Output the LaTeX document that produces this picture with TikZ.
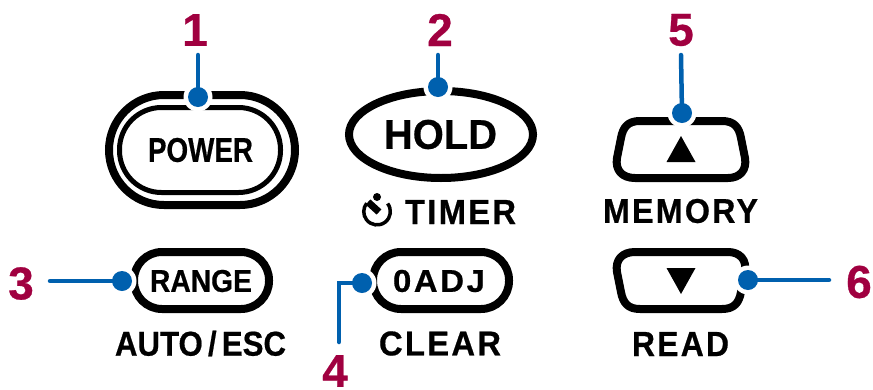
\documentclass[tikz,border=0pt]{standalone}
\usepackage{graphicx}
\usepackage{fontspec}
\setmainfont{Liberation Sans}
\definecolor{callblue}{HTML}{0060AE}
\definecolor{callred}{HTML}{A00040}
\newfontfamily\labfont[FakeBold=0.6]{Liberation Sans Bold}
\newcommand{\fitcap}[3]{\resizebox{#1pt}{#2pt}{\labfont #3}}
\newcommand{\fitsp}[3]{\resizebox{#1pt}{#2pt}{\labfont\addfontfeature{LetterSpace=7}#3}}
\tikzset{
  x=1pt,y=-1pt,
  btn/.style={draw=black,line width=8pt,fill=white},
  thinbtn/.style={draw=black,line width=5pt},
  lead/.style={draw=callblue,line width=4.5pt,line cap=round},
  halo/.style={circle,fill=white,minimum size=29pt,inner sep=0pt},
  dotb/.style={circle,fill=callblue,minimum size=20pt,inner sep=0pt},
  num/.style={text=callred,font=\fontsize{46}{46}\labfont\selectfont,inner sep=0pt},
  lab/.style={inner sep=0pt,text=black},
  tri/.style={fill=black},
}
\begin{document}
\begin{tikzpicture}
\useasboundingbox (0,0) rectangle (873,389);
% buttons
\draw[btn,rounded corners=55pt] (109,95) rectangle (295,205);
\draw[thinbtn,rounded corners=42pt] (119.5,107.5) rectangle (280.5,192.5);
\draw[btn] (441,134.5) ellipse [x radius=92,y radius=43.5];
\draw[btn,rounded corners=28pt] (134,252) rectangle (269,309);
\draw[btn,rounded corners=28pt] (373,252) rectangle (509,309);
\draw[btn,line join=round] (640,121) -- (722,121) .. controls (734,121) and (739,127) .. (741,138) -- (745,158) .. controls (747,170) and (740,178) .. (728,178) -- (635,178) .. controls (622,178) and (615,170) .. (617,158) -- (621,138) .. controls (623,127) and (628,121) .. (640,121) -- cycle;
\draw[btn,line join=round] (640,309) -- (722,309) .. controls (734,309) and (739,303) .. (741,292) -- (745,272) .. controls (747,260) and (740,252) .. (728,252) -- (635,252) .. controls (622,252) and (615,260) .. (617,272) -- (621,292) .. controls (623,303) and (628,309) .. (640,309) -- cycle;
\fill[tri] (681,136) -- (695.5,162) -- (666.5,162) -- cycle;
\fill[tri] (681,294) -- (695.5,268) -- (666.5,268) -- cycle;
% labels
\node[lab] (power) at (200.5,150) {\fitcap{105}{24}{POWER}};
\node[lab] (hold) at (440.5,134.5) {\fitcap{113}{29}{HOLD}};
\node[lab] (timer) at (460.5,212) {\fitsp{111}{24}{TIMER}};
\node[lab] (memory) at (680.5,211) {\fitsp{155}{24}{MEMORY}};
\node[lab] (read) at (680.5,344) {\fitsp{97}{24}{READ}};
\node[lab] (range) at (201,281) {\fitcap{102}{22}{RANGE}};
\node[lab] (zero) at (439,281) {\resizebox{92pt}{22pt}{\labfont\addfontfeature{LetterSpace=8}0ADJ}};
\node[lab] (auto) at (200.5,343.5) {\fitcap{171}{25}{AUTO\,/\,ESC}};
\node[lab] (clear) at (440,343.5) {\fitsp{122}{24}{CLEAR}};
% timer icon
\draw[line width=3.5pt] (387.6,203.5) arc[start angle=-37.5,delta angle=257,radius=13.3];
\draw[line width=7pt] (368,202) -- (379,212);
\fill (377,197) circle (4);
% callouts
\node[num] (n1) at (195,30) {1};
\node[num] (n2) at (440,30) {2};
\node[num] (n5) at (681,30) {5};
\node[num] (n3) at (21,283.5) {3};
\node[num] (n6) at (859,282) {6};
\node[num] (n4) at (335,371) {4};
\coordinate (s1) at (198,55);
\coordinate (s2) at (438,55);
\coordinate (s5) at (681,55);
\coordinate (s3) at (50,281);
\coordinate (s6) at (829,280);
\coordinate (s4) at (339,342);
\node[halo] at (198,97) {};
\node[halo] at (438,87) {};
\node[halo] at (682,113) {};
\node[halo] at (122,281) {};
\node[halo] at (362,283) {};
\node[halo] at (748,280) {};
\node[dotb] (d1) at (198,97) {};
\node[dotb] (d2) at (438,87) {};
\node[dotb] (d5) at (682,113) {};
\node[dotb] (d3) at (122,281) {};
\node[dotb] (d4) at (362,283) {};
\node[dotb] (d6) at (748,280) {};
\draw[lead] (s1) -- (d1.center);
\draw[lead] (s2) -- (d2.center);
\draw[lead] (s5) -- (d5.center);
\draw[lead] (s3) -- (d3.center);
\draw[lead] (s6) -- (d6.center);
\draw[lead,line join=miter] (s4) -- (s4 |- d4) -- (d4.center);
\end{tikzpicture}
\end{document}
